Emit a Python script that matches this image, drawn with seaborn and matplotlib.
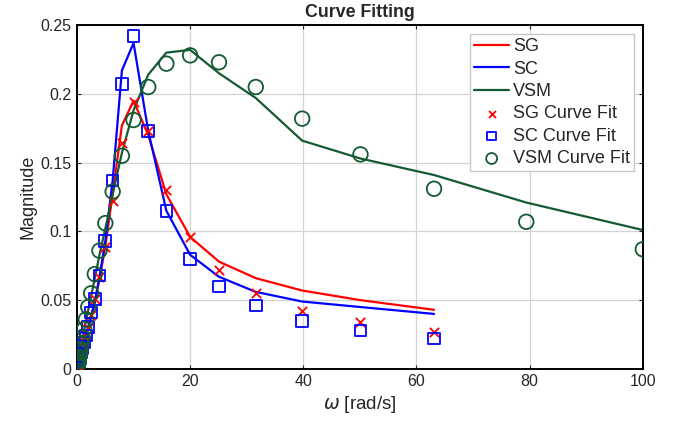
import matplotlib
matplotlib.use("Agg")
import matplotlib.pyplot as plt
import seaborn as sns
import pandas as pd

# frequencies [rad/s]
omega = [0.1, 0.126, 0.158, 0.2, 0.251, 0.316, 0.398, 0.501, 0.631, 0.794,
         1.0, 1.26, 1.58, 2.0, 2.51, 3.16, 3.98, 5.01, 6.31, 7.94,
         10.0, 12.6, 15.8, 20.0, 25.1, 31.6, 39.8, 50.1, 63.1, 79.4, 100.0]

# measured curves (SG / SC up to 63.1 rad/s)
sg_line = [0.0015, 0.0019, 0.0024, 0.003, 0.0038, 0.0048, 0.006, 0.0076, 0.0096, 0.012,
           0.015, 0.019, 0.024, 0.030, 0.038, 0.049, 0.065, 0.089, 0.127, 0.177,
           0.195, 0.170, 0.127, 0.096, 0.078, 0.066, 0.057, 0.050, 0.043]
sc_line = [0.0015, 0.0019, 0.0024, 0.003, 0.0038, 0.0048, 0.006, 0.0076, 0.0096, 0.012,
           0.0152, 0.0192, 0.0242, 0.0305, 0.0385, 0.049, 0.067, 0.093, 0.137, 0.217,
           0.237, 0.173, 0.115, 0.083, 0.067, 0.056, 0.049, 0.045, 0.040]
vsm_line = [0.0022, 0.0028, 0.0035, 0.0044, 0.0055, 0.007, 0.0088, 0.011, 0.014, 0.0175,
            0.022, 0.028, 0.035, 0.043, 0.053, 0.066, 0.083, 0.102, 0.127, 0.157,
            0.188, 0.214, 0.230, 0.232, 0.215, 0.197, 0.166, 0.153, 0.141, 0.121, 0.101]

# curve fit points
sg_fit = [0.0015, 0.0019, 0.0024, 0.003, 0.0038, 0.0048, 0.006, 0.0076, 0.0096, 0.012,
          0.015, 0.019, 0.024, 0.030, 0.039, 0.051, 0.067, 0.089, 0.122, 0.164,
          0.194, 0.173, 0.130, 0.096, 0.072, 0.055, 0.042, 0.034, 0.027]
sc_fit = [0.0015, 0.0019, 0.0024, 0.003, 0.0038, 0.0048, 0.006, 0.0076, 0.0096, 0.012,
          0.0152, 0.0192, 0.0242, 0.0305, 0.041, 0.051, 0.068, 0.093, 0.137, 0.207,
          0.242, 0.173, 0.115, 0.080, 0.060, 0.046, 0.035, 0.028, 0.022]
vsm_fit = [0.0022, 0.0028, 0.0035, 0.0044, 0.0055, 0.007, 0.0088, 0.0115, 0.0145, 0.018,
           0.023, 0.029, 0.036, 0.045, 0.055, 0.069, 0.086, 0.106, 0.129, 0.155,
           0.181, 0.205, 0.222, 0.228, 0.223, 0.205, 0.182, 0.156, 0.131, 0.107, 0.087]

red = "#ff0000"
blue = "#0000ff"
green = "#145a32"

sns.set_style("ticks")
plt.rcParams["font.family"] = ["Liberation Sans", "DejaVu Sans"]
plt.rcParams["mathtext.fontset"] = "dejavusans"

fig, ax = plt.subplots(figsize=(6.81, 4.26), dpi=100)
fig.subplots_adjust(left=0.113, right=0.944, top=0.941, bottom=0.134)

n = len(sg_line)
sg_df = pd.DataFrame({"w": omega[:n], "line": sg_line, "fit": sg_fit})
sc_df = pd.DataFrame({"w": omega[:n], "line": sc_line, "fit": sc_fit})
vsm_df = pd.DataFrame({"w": omega, "line": vsm_line, "fit": vsm_fit})

sns.lineplot(data=sg_df, x="w", y="line", color=red, lw=1.6, label="SG", ax=ax, sort=False)
sns.lineplot(data=sc_df, x="w", y="line", color=blue, lw=1.6, label="SC", ax=ax, sort=False)
sns.lineplot(data=vsm_df, x="w", y="line", color=green, lw=1.6, label="VSM", ax=ax, sort=False)
sns.scatterplot(data=sg_df, x="w", y="fit", marker="x", color=red, s=45, linewidth=1.3,
                label="SG Curve Fit", ax=ax, zorder=3)
sns.scatterplot(data=sc_df, x="w", y="fit", marker="s", facecolor="none", edgecolor=blue,
                s=70, linewidth=1.3, label="SC Curve Fit", ax=ax, zorder=3)
sns.scatterplot(data=vsm_df, x="w", y="fit", marker="o", facecolor="none", edgecolor=green,
                s=110, linewidth=1.3, label="VSM Curve Fit", ax=ax, zorder=3)

ax.set_xlim(0, 100)
ax.set_ylim(0, 0.25)
ax.set_xticks([0, 20, 40, 60, 80, 100])
ax.set_yticks([0, 0.05, 0.1, 0.15, 0.2, 0.25])
ax.set_yticklabels(["0", "0.05", "0.1", "0.15", "0.2", "0.25"])
ax.grid(True, color="#d4d4d4", lw=0.9)
ax.tick_params(direction="in", labelsize=11.5, length=3, top=True, right=True, pad=4)
for sp in ax.spines.values():
    sp.set_visible(True)
    sp.set_linewidth(1.4)
    sp.set_color("black")

ax.set_xlabel(r"$\omega$ [rad/s]", fontsize=13.5, labelpad=3)
ax.set_ylabel("Magnitude", fontsize=13, labelpad=3)
ax.set_title("Curve Fitting", fontsize=12.8, fontweight="bold", pad=6)

leg = ax.legend(loc="upper right", fontsize=13, fancybox=False, framealpha=1,
                edgecolor="#c8c8c8", borderaxespad=0.5, handlelength=1.95,
                handletextpad=0.2, labelspacing=0.3, borderpad=0.22, markerscale=0.75)
leg.get_frame().set_linewidth(1.0)

fig.savefig("out.png", dpi=100)
